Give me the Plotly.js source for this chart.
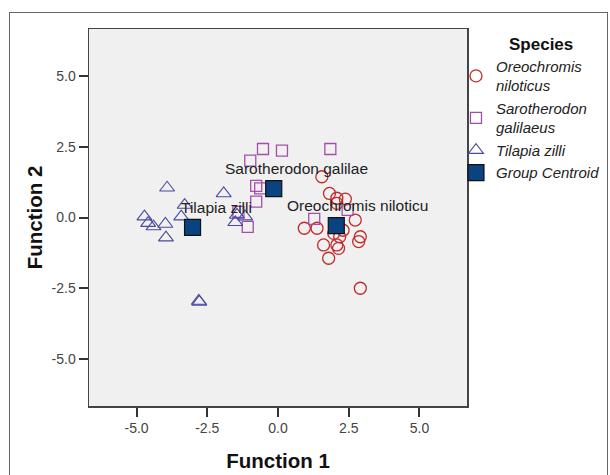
<!DOCTYPE html>
<html>
<head>
<meta charset="utf-8">
<script src="https://cdn.plot.ly/plotly-3.0.1.min.js"></script>
<style>
  html, body { margin: 0; padding: 0; background: #fff; }
  #wrap { position: relative; width: 610px; height: 475px; overflow: hidden; }
  #frame { position: absolute; left: 9px; top: 12px; width: 597px; height: 480px;
           border: 1px solid #666; pointer-events: none; }
</style>
</head>
<body>
<div id="wrap">
  <div id="chart" style="width:610px;height:475px;"></div>
  <div id="frame"></div>
</div>
<script>
// ---- Data ----
const oreoX = [1.55, 1.82, 2.08, 2.38, 2.08, 2.73, 0.93, 1.38, 1.61, 2.08, 2.14, 1.79, 2.91, 2.85, 2.91, 2.18, 1.97, 2.30];
const oreoY = [1.44, 0.85, 0.68, 0.65, 0.50, -0.09, -0.38, -0.38, -0.97, -0.97, -1.09, -1.44, -0.68, -0.85, -2.50, -0.68, -0.56, -0.45];

const saroX = [-0.53, 0.14, -0.98, -0.77, -0.63, -0.77, -1.40, -1.07, 1.85, 1.28, 2.46];
const saroY = [2.42, 2.36, 2.01, 1.12, 1.03, 0.56, 0.20, -0.33, 2.42, -0.05, 0.27];

const tilX = [-3.92, -4.72, -4.59, -4.40, -3.98, -3.96, -3.42, -3.30, -1.92, -1.45, -1.51, -1.16, -2.78, -2.80];
const tilY = [1.05, 0.03, -0.20, -0.32, -0.23, -0.71, 0.03, 0.44, 0.85, 0.09, -0.17, 0.03, -2.98, -2.95];

const centroidX = [2.06, -0.15, -3.02];
const centroidY = [-0.29, 1.02, -0.35];
const centroidLabels = ["Oreochromis niloticu", "Sarotherodon galilae", "Tilapia zilli"];

const legendTitle = "Species";
const seriesNames = ["Oreochromis<br>niloticus", "Sarotherodon<br>galilaeus", "Tilapia zilli", "Group Centroid"];
const tickVals = [-5, -2.5, 0, 2.5, 5];
const tickText = ["-5.0", "-2.5", "0.0", "2.5", "5.0"];

const FONT = 'Liberation Sans, Arial, sans-serif';

// ---- Traces ----
const traces = [
  { x: oreoX, y: oreoY, name: seriesNames[0], type: 'scatter', mode: 'markers',
    marker: { symbol: 'circle-open', size: 12, color: '#c42a2a', line: { width: 1.3 } } },
  { x: saroX, y: saroY, name: seriesNames[1], type: 'scatter', mode: 'markers',
    marker: { symbol: 'square-open', size: 11, color: '#a24fab', line: { width: 1.3 } } },
  { x: tilX, y: tilY, name: seriesNames[2], type: 'scatter', mode: 'markers',
    marker: { symbol: 'triangle-up-open', size: 13, color: '#4a49a0', line: { width: 1.1 } } },
  { x: centroidX, y: centroidY, name: seriesNames[3], type: 'scatter', mode: 'markers',
    marker: { symbol: 'square', size: 16, color: '#0a4380', line: { width: 1.2, color: '#111' } } }
];

const labelShift = [-51, -51, -14];
const annotations = centroidLabels.map((t, i) => ({
  x: centroidX[i], y: centroidY[i], text: t, showarrow: false,
  xanchor: 'left', yanchor: 'middle', xshift: labelShift[i], yshift: 20,
  font: { family: FONT, size: 15.5, color: '#222' }
}));
annotations.push({
  xref: 'paper', yref: 'paper', x: 1.196, y: 0.9576, text: '<b>' + legendTitle + '</b>',
  showarrow: false, xanchor: 'center', yanchor: 'middle',
  font: { family: FONT, size: 17, color: '#111' }
});

const axisCommon = {
  showgrid: false, zeroline: false, automargin: false,
  showline: true, mirror: true, linecolor: '#444', linewidth: 1.5,
  ticks: 'outside', ticklen: 9, tickwidth: 2, tickcolor: '#333',
  tickvals: tickVals, ticktext: tickText,
  tickfont: { family: FONT, size: 14, color: '#444' }
};

const layout = {
  width: 610, height: 475,
  margin: { l: 89, r: 143, t: 29, b: 69, autoexpand: false },
  paper_bgcolor: '#ffffff', plot_bgcolor: '#f0f0f0',
  showlegend: true,
  xaxis: Object.assign({}, axisCommon, {
    range: [-6.68, 6.68],
    title: { text: 'Function 1', standoff: 18,
             font: { family: FONT, size: 20.5, color: '#111', weight: 'bold' } }
  }),
  yaxis: Object.assign({}, axisCommon, {
    range: [-6.66, 6.66],
    title: { text: 'Function 2', standoff: 3,
             font: { family: FONT, size: 20.5, color: '#111', weight: 'bold' } }
  }),
  legend: {
    xref: 'container', yref: 'container',
    x: 0.7475, xanchor: 'left', y: 0.895, yanchor: 'top',
    bgcolor: 'rgba(0,0,0,0)', itemwidth: 30, tracegroupgap: 0,
    font: { family: FONT, size: 15, color: '#222', style: 'italic' }
  },
  annotations: annotations
};

Plotly.newPlot('chart', traces, layout, { displayModeBar: false, staticPlot: true });
</script>
</body>
</html>
